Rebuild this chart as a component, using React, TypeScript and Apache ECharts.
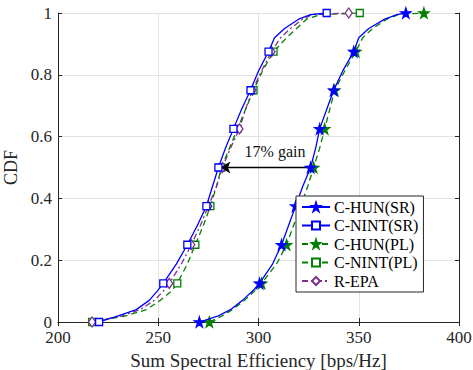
import React, { useEffect, useRef } from "react";
import * as echarts from "echarts";

const cdfLevels = [0, 0.02, 0.04, 0.07, 0.1, 0.125, 0.1875, 0.25, 0.3125, 0.375, 0.4375, 0.5, 0.5625, 0.625, 0.6875, 0.75, 0.8125, 0.875, 0.92, 0.95, 0.98, 0.995, 1];
const markerLevels = [0, 0.125, 0.25, 0.375, 0.5, 0.625, 0.75, 0.875, 1];

const hunSR = [270.5, 280, 286, 292, 297, 300.5, 307, 311.5, 315, 318.5, 322, 326, 328.5, 330.5, 334, 337.5, 342, 347.5, 350, 355, 363, 369, 373.5];
const nintSR = [220.5, 230, 239, 245.5, 249.5, 252.5, 259, 264.5, 269.5, 274, 277, 280, 283.5, 287.5, 291.5, 296, 300, 305, 308, 313, 320, 326, 334];
const hunPL = [275.5, 282, 287, 293, 298, 301.5, 309, 314, 317.5, 321, 324.5, 327.5, 330.5, 333, 335.5, 338, 343, 348.5, 352, 357, 364, 370, 382.5];
const nintPL = [217, 234, 244, 251, 256.5, 259.5, 264.5, 268.5, 272.5, 276, 279, 281.5, 285.5, 289.5, 293.5, 297.5, 302, 307.5, 314, 319, 324, 331, 350.5];
const rEPA = [217, 232, 241, 248, 252.5, 255.5, 261.5, 266.5, 271, 275, 279, 282, 286, 290.5, 293.5, 297, 301.5, 306.5, 311, 316, 322, 327, 345];

const seriesNames = ["C-HUN(SR)", "C-NINT(SR)", "C-HUN(PL)", "C-NINT(PL)", "R-EPA"];
const xTicks = [200, 250, 300, 350, 400];
const yTicks = [0, 0.2, 0.4, 0.6, 0.8, 1];

// annotation: gain arrow (from, to) at CDF 0.5
const gainArrowX = [325.5, 281];
const gainArrowY = 0.5;
const gainText = "17% gain";

const FONT = "Liberation Serif";
const AX = "#262626";
const STAR = "path://M50,0 L61.2,34.5 L97.6,34.5 L68.2,55.9 L79.4,90.5 L50,69.1 L20.6,90.5 L31.8,55.9 L2.4,34.5 L38.8,34.5 Z";

function makeData(xs: number[]) {
  return cdfLevels.map((p, i) =>
    markerLevels.includes(p) ? { value: [xs[i], p] } : { value: [xs[i], p], symbol: "none" }
  );
}

export default function App() {
  const ref = useRef<HTMLDivElement>(null);
  useEffect(() => {
    if (!ref.current) return;
    const chart = echarts.init(ref.current, undefined, { renderer: "svg" });
    const blue = "#0000ff";
    const green = "#008000";
    const purple = "#7e2f8e";
    const mk = (
      name: string,
      xs: number[],
      color: string,
      dash: any,
      symbol: string,
      symbolSize: any,
      filled: boolean,
      z: number,
      extra: any = {}
    ) => ({
      name,
      type: "line",
      data: makeData(xs),
      symbol,
      symbolSize,
      showAllSymbol: true,
      z,
      lineStyle: { color, width: 1.3, type: dash },
      itemStyle: { color: filled ? color : "#ffffff", borderColor: color, borderWidth: 1.3 },
      emphasis: { disabled: true },
      ...extra,
    });

    const option: any = {
      animation: false,
      textStyle: { fontFamily: FONT },
      grid: { left: 58, right: 14, top: 13, bottom: 48, show: false, containLabel: false, outerBoundsMode: "none" },
      xAxis: [
        {
          type: "value",
          min: xTicks[0],
          max: xTicks[xTicks.length - 1],
          interval: 50,
          name: "Sum Spectral Efficiency [bps/Hz]",
          nameLocation: "middle",
          nameGap: 25,
          nameTextStyle: { fontFamily: FONT, fontSize: 19, color: AX },
          axisLine: { show: true, lineStyle: { color: AX, width: 1 } },
          axisTick: { show: true, inside: true, length: 4, lineStyle: { color: AX } },
          axisLabel: { fontFamily: FONT, fontSize: 17, color: AX, margin: 8, lineHeight: 15 },
          splitLine: { show: true, lineStyle: { color: "#e3e3e3", width: 1 } },
        },
        {
          type: "value",
          position: "top",
          min: xTicks[0],
          max: xTicks[xTicks.length - 1],
          interval: 50,
          axisLine: { show: true, lineStyle: { color: AX, width: 1 } },
          axisTick: { show: true, inside: true, length: 4, lineStyle: { color: AX } },
          axisLabel: { show: false },
          splitLine: { show: false },
        },
      ],
      yAxis: [
        {
          type: "value",
          min: yTicks[0],
          max: yTicks[yTicks.length - 1],
          interval: 0.2,
          name: "CDF",
          nameLocation: "middle",
          nameGap: 37,
          nameTextStyle: { fontFamily: FONT, fontSize: 18, color: AX },
          axisLine: { show: true, lineStyle: { color: AX, width: 1 } },
          axisTick: { show: true, inside: true, length: 4, lineStyle: { color: AX } },
          axisLabel: {
            fontFamily: FONT,
            fontSize: 17,
            lineHeight: 14,
            color: AX,
            margin: 6,
            formatter: (v: number) => (v === 0 || v === 1 ? String(v) : v.toFixed(1)),
          },
          splitLine: { show: true, lineStyle: { color: "#e3e3e3", width: 1 } },
        },
        {
          type: "value",
          position: "right",
          min: yTicks[0],
          max: yTicks[yTicks.length - 1],
          interval: 0.2,
          axisLine: { show: true, lineStyle: { color: AX, width: 1 } },
          axisTick: { show: true, inside: true, length: 4, lineStyle: { color: AX } },
          axisLabel: { show: false },
          splitLine: { show: false },
        },
      ],
      legend: {
        orient: "vertical",
        left: 296,
        top: 196,
        data: seriesNames,
        backgroundColor: "#ffffff",
        borderColor: AX,
        borderWidth: 1,
        borderRadius: 0,
        padding: [3, 5, 3, 5],
        itemWidth: 28,
        itemHeight: 10,
        itemGap: 2.5,
        textStyle: { fontFamily: FONT, fontSize: 16, lineHeight: 16, color: "#000", padding: [0, 0, 0, -1] },
        z: 10,
        selectedMode: false,
      },
      series: [
        mk(seriesNames[0], hunSR, blue, "solid", STAR, 10, true, 5, {
          markLine: {
            silent: true,
            symbol: ["none", "arrow"],
            symbolSize: [9, 10],
            lineStyle: { color: "#000", width: 1.4, type: "solid" },
            label: {
              show: true,
              position: "middle",
              formatter: gainText,
              fontFamily: FONT,
              fontSize: 16,
              color: "#111",
              distance: 8,
              offset: [10, 0],
            },
            data: [[{ coord: [gainArrowX[0], gainArrowY] }, { coord: [gainArrowX[1], gainArrowY] }]],
          },
        }),
        mk(seriesNames[1], nintSR, blue, "solid", "rect", 7, false, 5),
        mk(seriesNames[2], hunPL, green, [6, 4], STAR, 10, true, 4),
        mk(seriesNames[3], nintPL, green, [6, 4], "rect", 7, false, 4),
        mk(seriesNames[4], rEPA, purple, [6, 3, 2, 3], "diamond", [7, 10], false, 4),
      ],
    };
    chart.setOption(option);
    return () => chart.dispose();
  }, []);
  return <div ref={ref} style={{ position: "absolute", left: 0, top: 0, width: 473, height: 370 }} />;
}
